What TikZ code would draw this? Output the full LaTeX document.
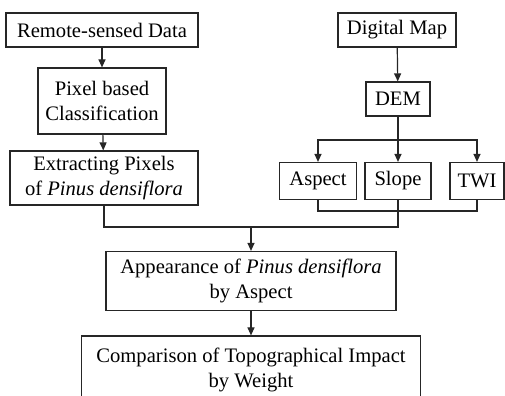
\documentclass[tikz,border=0pt]{standalone}
\usepackage{fontspec}
\setmainfont{Liberation Serif}
\newfontfamily\chartfont{Liberation Serif}
\usetikzlibrary{arrows.meta}
\tikzset{
  flowchart/.style={
    x=0.5pt, y=-0.5pt,
    every node/.style={draw=black!85, line width=0.6pt, inner sep=0pt, align=center,
        font=\chartfont\fontsize{10.3}{12.5}\selectfont},
    small box/.style={minimum height=18.5pt},
    link/.style={draw=black!85, line width=0.6pt},
    arrow/.style={link, -{Triangle[length=4pt,width=3.5pt]}},
  }
}

\begin{document}
\begin{tikzpicture}[flowchart]
    \useasboundingbox (0,0) rectangle (505,396);
    \clip (0,0) rectangle (505,396);
    \node[minimum width=96pt, minimum height=17pt] (remote) at (102,30) {Remote-sensed Data};
    \node[minimum width=64pt, minimum height=33pt] (pixel) at (102,101) {Pixel based\\Classification};
    \node[minimum width=94pt, minimum height=27pt] (extract) at (104,178) {Extracting Pixels\\of \textit{Pinus densiflora}};
    \node[minimum width=59pt, minimum height=17pt] (digital) at (397,30) {Digital Map};
    \node[minimum width=32pt, minimum height=17pt] (dem) at (398,99) {DEM};
    \node[small box, minimum width=38.5pt] (aspect) at (318,181) {Aspect};
    \node[small box, minimum width=33pt] (slope) at (398,181) {Slope};
    \node[small box, minimum width=27pt] (twi) at (477,181) {TWI};
    \node[minimum width=145pt, minimum height=29.5pt] (appear) at (251,281) {Appearance of \textit{Pinus densiflora}\\by Aspect};
    \node[minimum width=169.5pt, minimum height=34pt] (compare) at (251,370) {Comparison of Topographical Impact\\by Weight};
    \coordinate (fork) at (398,140);
    \coordinate (bar) at (398,211);
    \coordinate (merge) at (251,227);

    \draw[arrow] (remote) -- (pixel);
    \draw[arrow] (pixel) -- (extract);
    \draw[arrow] (digital) -- (dem);
    \draw[link] (dem) -- (fork);
    \draw[arrow] (fork) -| (aspect.north);
    \draw[arrow] (fork) -- (slope);
    \draw[arrow] (fork) -| (twi.north);
    \draw[link] (aspect.south) |- (bar) -| (twi.south);
    \draw[link] (extract.south) |- (merge) -| (slope.south);
    \draw[arrow] (merge) -- (appear);
    \draw[arrow] (appear) -- (compare);
\end{tikzpicture}
\end{document}
